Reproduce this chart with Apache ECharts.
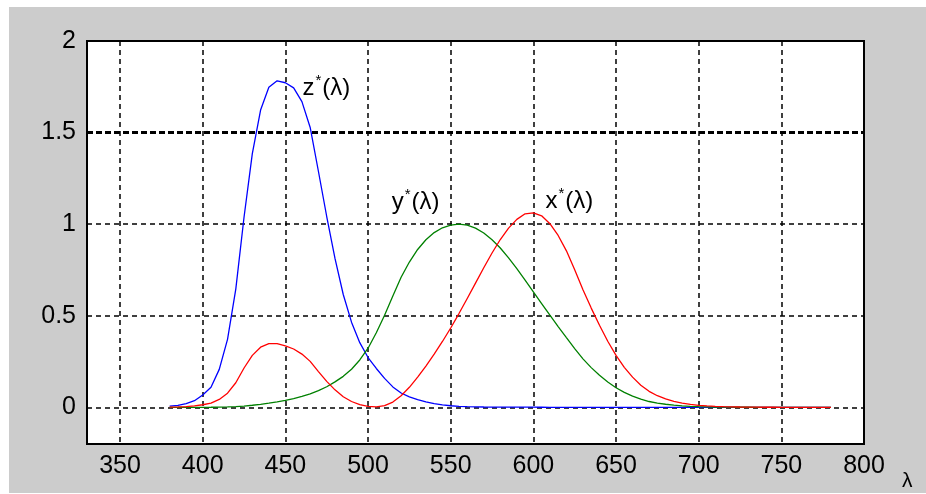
<!DOCTYPE html>
<html>
<head>
<meta charset="utf-8">
<script src="https://cdn.jsdelivr.net/npm/echarts@6/dist/echarts.min.js"></script>
<style>
  html, body { margin: 0; padding: 0; background: #ffffff; }
  #chart { position: absolute; left: 9px; top: 7px; width: 917px; height: 486px; background: #cccccc; }
</style>
</head>
<body>
<div id="chart"></div>
<script>
// wavelength samples (nm)
const lambda = [
  380, 385, 390, 395, 400, 405, 410, 415, 420, 425, 430, 435, 440, 445, 450, 455,
  460, 465, 470, 475, 480, 485, 490, 495, 500, 505, 510, 515, 520, 525, 530, 535,
  540, 545, 550, 555, 560, 565, 570, 575, 580, 585, 590, 595, 600, 605, 610, 615,
  620, 625, 630, 635, 640, 645, 650, 655, 660, 665, 670, 675, 680, 685, 690, 695,
  700, 705, 710, 715, 720, 725, 730, 735, 740, 745, 750, 755, 760, 765, 770, 775, 780
]
// x*(λ) red
const xBar = [
  0.0014, 0.0022, 0.0042, 0.0077, 0.0143, 0.0232, 0.0435, 0.0776, 0.1344, 0.2148, 0.2839, 0.3285, 0.3483, 0.3481, 0.3362, 0.3187,
  0.2908, 0.2511, 0.1954, 0.1421, 0.0956, 0.0580, 0.0320, 0.0147, 0.0049, 0.0024, 0.0093, 0.0291, 0.0633, 0.1096, 0.1655, 0.2257,
  0.2904, 0.3597, 0.4334, 0.5121, 0.5945, 0.6784, 0.7621, 0.8425, 0.9163, 0.9786, 1.0263, 1.0567, 1.0622, 1.0456, 1.0026, 0.9384,
  0.8544, 0.7514, 0.6424, 0.5419, 0.4479, 0.3608, 0.2835, 0.2187, 0.1649, 0.1212, 0.0874, 0.0636, 0.0468, 0.0329, 0.0227, 0.0158,
  0.0114, 0.0081, 0.0058, 0.0041, 0.0029, 0.0020, 0.0014, 0.0010, 0.0007, 0.0005, 0.0003, 0.0002, 0.0002, 0.0001, 0.0001, 0.0001, 0.0000
]
// y*(λ) green
const yBar = [
  0.0000, 0.0001, 0.0001, 0.0002, 0.0004, 0.0006, 0.0012, 0.0022, 0.0040, 0.0073, 0.0116, 0.0168, 0.0230, 0.0298, 0.0380, 0.0480,
  0.0600, 0.0739, 0.0910, 0.1126, 0.1390, 0.1693, 0.2080, 0.2586, 0.3230, 0.4073, 0.5030, 0.6082, 0.7100, 0.7932, 0.8620, 0.9149,
  0.9540, 0.9803, 0.9950, 1.0000, 0.9950, 0.9786, 0.9520, 0.9154, 0.8700, 0.8163, 0.7570, 0.6949, 0.6310, 0.5668, 0.5030, 0.4412,
  0.3810, 0.3210, 0.2650, 0.2170, 0.1750, 0.1382, 0.1070, 0.0816, 0.0610, 0.0446, 0.0320, 0.0232, 0.0170, 0.0119, 0.0082, 0.0057,
  0.0041, 0.0029, 0.0021, 0.0015, 0.0010, 0.0007, 0.0005, 0.0004, 0.0002, 0.0002, 0.0001, 0.0001, 0.0001, 0.0000, 0.0000, 0.0000, 0.0000
]
// z*(λ) blue
const zBar = [
  0.0065, 0.0106, 0.0201, 0.0362, 0.0679, 0.1102, 0.2074, 0.3713, 0.6456, 1.0391, 1.3856, 1.6230, 1.7471, 1.7826, 1.7721, 1.7441,
  1.6692, 1.5281, 1.2876, 1.0419, 0.8130, 0.6162, 0.4652, 0.3533, 0.2720, 0.2123, 0.1582, 0.1117, 0.0783, 0.0573, 0.0422, 0.0298,
  0.0203, 0.0134, 0.0088, 0.0058, 0.0039, 0.0028, 0.0021, 0.0018, 0.0017, 0.0014, 0.0011, 0.0010, 0.0008, 0.0006, 0.0003, 0.0002,
  0.0002, 0.0001, 0.0001, 0.0000, 0.0000, 0.0000, 0.0000, 0.0000, 0.0000, 0.0000, 0.0000, 0.0000, 0.0000, 0.0000, 0.0000, 0.0000,
  0.0000, 0.0000, 0.0000, 0.0000, 0.0000, 0.0000, 0.0000, 0.0000, 0.0000, 0.0000, 0.0000, 0.0000, 0.0000, 0.0000, 0.0000, 0.0000, 0.0000
]
const xTicks = [350, 400, 450, 500, 550, 600, 650, 700, 750, 800]
const yTicks = [0, 0.5, 1, 1.5, 2]

const pairs = (ys) => lambda.map((l, i) => [l, ys[i]])
const font = 'Liberation Sans, Arial, sans-serif'

// curve name label, placed next to its curve in data coordinates
const curveLabel = (letter, coord) => ({
  symbol: 'circle',
  symbolSize: 1,
  silent: true,
  itemStyle: { color: 'rgba(0,0,0,0)' },
  data: [{
    coord: coord,
    label: {
      show: true,
      position: 'right',
      distance: 0,
      formatter: '{b|' + letter + '}{s|*}{b|(λ)}',
      rich: {
        b: { fontSize: 24, color: '#000', fontFamily: font, lineHeight: 30 },
        s: { fontSize: 15, color: '#000', fontFamily: font, verticalAlign: 'top', lineHeight: 30, padding: [0, 1, 14, 1] }
      }
    }
  }]
})

const myChart = echarts.init(document.getElementById('chart'), null, { renderer: 'canvas' })

const gridLine = { show: true, lineStyle: { color: '#000', width: 1.5, type: [5, 4] } }

const option = {
  backgroundColor: 'transparent',
  animation: false,
  grid: {
    left: 78, top: 34, right: 62, bottom: 49,
    show: true, backgroundColor: '#ffffff', borderColor: '#000', borderWidth: 2
  },
  graphic: [{
    type: 'text', left: 893, top: 464, silent: true,
    style: { text: 'λ', fontSize: 21, fill: '#000', fontFamily: font }
  }],
  xAxis: {
    type: 'value',
    min: 330,
    max: 800,
    axisLine: { show: true, onZero: false, lineStyle: { color: '#000', width: 2 } },
    axisTick: { show: false, customValues: xTicks },
    axisLabel: { customValues: xTicks, color: '#000', fontSize: 25, fontFamily: font, margin: 10 },
    splitLine: gridLine
  },
  yAxis: {
    type: 'value',
    min: -0.2,
    max: 2,
    axisLine: { show: true, onZero: false, lineStyle: { color: '#000', width: 2 } },
    axisTick: { show: false, customValues: yTicks },
    axisLabel: { customValues: yTicks, color: '#000', fontSize: 25, fontFamily: font, margin: 11 },
    splitLine: gridLine
  },
  series: [
    {
      name: 'z', type: 'line', data: pairs(zBar), showSymbol: false,
      lineStyle: { color: '#0000ff', width: 1.3 },
      markLine: {
        symbol: 'none', silent: true, label: { show: false },
        lineStyle: { color: '#000', width: 3, type: [6, 3] },
        data: [{ yAxis: 1.5 }]
      },
      markPoint: curveLabel('z', [460, 1.74])
    },
    {
      name: 'y', type: 'line', data: pairs(yBar), showSymbol: false,
      lineStyle: { color: '#008000', width: 1.3 },
      markPoint: curveLabel('y', [514, 1.12])
    },
    {
      name: 'x', type: 'line', data: pairs(xBar), showSymbol: false,
      lineStyle: { color: '#ff0000', width: 1.3 },
      markPoint: curveLabel('x', [607, 1.125])
    }
  ]
}

myChart.setOption(option)
</script>
</body>
</html>
